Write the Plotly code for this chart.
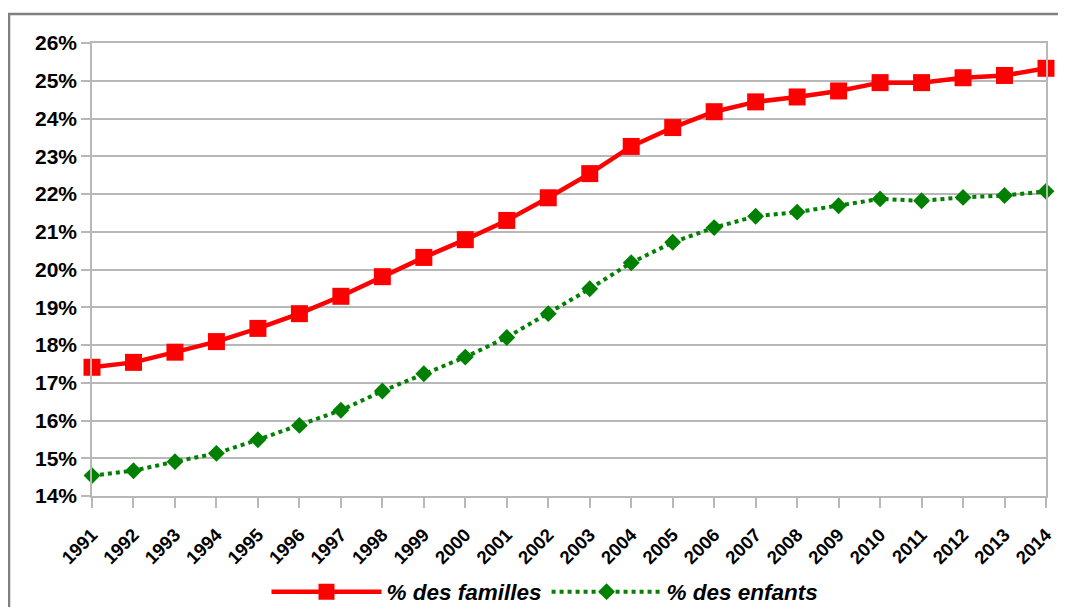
import plotly.graph_objects as go

years = list(range(1991, 2015))
familles = [17.41, 17.54, 17.81, 18.09, 18.44, 18.83, 19.29, 19.81, 20.32, 20.79,
            21.30, 21.90, 22.54, 23.26, 23.76, 24.18, 24.44, 24.57, 24.73, 24.95,
            24.95, 25.08, 25.14, 25.33]
enfants = [14.54, 14.67, 14.91, 15.13, 15.49, 15.87, 16.27, 16.78, 17.24, 17.68,
           18.20, 18.83, 19.49, 20.18, 20.72, 21.11, 21.41, 21.52, 21.69, 21.87,
           21.82, 21.91, 21.96, 22.07]
y_ticks = list(range(14, 27))

FONT = "Liberation Sans, Arial, sans-serif"
GRID = "#b8b8b8"

L, R, T, B = 84, 28, 35, 119
PW = 1066 - L - R
PH = 607 - T - B

fig = go.Figure()
fig.add_trace(go.Scatter(
    x=years, y=familles, name="% des familles", mode="lines+markers",
    line=dict(color="#ff0000", width=4.5),
    marker=dict(symbol="square", size=17, color="#ff0000"),
    cliponaxis=False,
))
fig.add_trace(go.Scatter(
    x=years, y=enfants, name="% des enfants", mode="lines+markers",
    line=dict(color="#008000", width=4, dash="dot"),
    marker=dict(symbol="diamond", size=13, color="#008000"),
    cliponaxis=False,
))

fig.update_layout(
    width=1066, height=607,
    margin=dict(l=L, r=R, t=T, b=B, autoexpand=False),
    paper_bgcolor="white", plot_bgcolor="white",
    font=dict(family=FONT, color="black"),
    showlegend=True,
    legend=dict(orientation="h", xref="container", x=(545 - 8) / 1066, xanchor="center",
                yref="container", y=1 - (592 - 8) / 607, yanchor="middle",
                font=dict(size=22.5, weight="bold", style="italic"),
                itemwidth=110),
    shapes=[dict(type="rect", xref="paper", yref="paper",
                 x0=-(L - 1) / PW, x1=1.2, y0=-0.5, y1=1 + 29 / PH,
                 line=dict(color="#808080", width=2.5), layer="below")],
)
fig.update_xaxes(
    range=[1991, 2014], tickmode="array", tickvals=years,
    ticktext=[str(y) for y in years], tickangle=-45,
    tickfont=dict(size=18.5, weight="bold"), ticklabelstandoff=9,
    showgrid=False, showline=True, linecolor=GRID, linewidth=1.5, mirror=True,
    ticks="outside", ticklen=10, tickcolor=GRID, tickwidth=1.5, zeroline=False,
)
fig.update_yaxes(
    range=[14, 26], tickmode="array", tickvals=y_ticks,
    ticktext=[f"{v}%" for v in y_ticks],
    tickfont=dict(size=21, weight="bold"),
    showgrid=True, gridcolor=GRID, gridwidth=1.5,
    showline=True, linecolor=GRID, linewidth=1.5, mirror=True,
    ticks="outside", ticklen=9, tickcolor=GRID, tickwidth=1.5, zeroline=False,
)

fig.write_html("out.html")
